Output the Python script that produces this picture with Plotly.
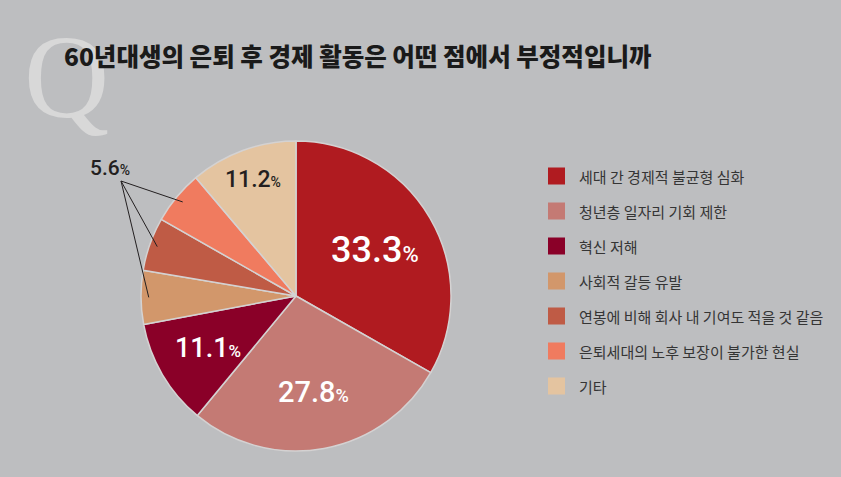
import math
import plotly.graph_objects as go

# ---- data ----
categories = [
    "세대 간 경제적 불균형 심화",
    "청년층 일자리 기회 제한",
    "혁신 저해",
    "사회적 갈등 유발",
    "연봉에 비해 회사 내 기여도 적을 것 같음",
    "은퇴세대의 노후 보장이 불가한 현실",
    "기타",
]
values = [33.3, 27.8, 11.1, 5.6, 5.6, 5.6, 11.2]
colors = ["#b01b20", "#c47a74", "#8a0028", "#d2976b", "#bf5b45", "#f07b5f", "#e4c4a0"]
title_text = "60년대생의 은퇴 후 경제 활동은 어떤 점에서 부정적입니까"

# label styling (which slices get their own label, radius fraction, size, color)
label_show = [True, True, True, False, False, False, True]
label_r = [0.59, 0.63, 0.66, 0, 0, 0, 0.80]
label_size = [36, 29, 27, 0, 0, 0, 23]
label_color = ["white", "white", "white", None, None, None, "#231f20"]

W, H = 841, 477
CX, CY, R = 296, 296, 155
BG = "#bdbec0"
NUM_FONT = "Roboto, Liberation Sans, Arial, sans-serif"

fig = go.Figure()
fig.add_trace(go.Pie(
    labels=categories, values=values, sort=False, direction="clockwise", rotation=0,
    marker=dict(colors=colors, line=dict(color="#d4d2d2", width=1.5)),
    textinfo="none", hoverinfo="label+percent", showlegend=False,
    domain=dict(x=[(CX - R) / W, (CX + R) / W], y=[1 - (CY + R) / H, 1 - (CY - R) / H]),
))

def px2paper(x, y):
    return x / W, 1 - y / H

total = sum(values)
mids = []
acc = 0
for v in values:
    mids.append((acc + v / 2) / total * 360)
    acc += v

def polar(angle, frac):
    a = math.radians(angle)
    return CX + frac * R * math.sin(a), CY - frac * R * math.cos(a)

annotations = []
shapes = []
# big Q
qx, qy = px2paper(66, 78)
annotations.append(dict(x=qx, y=qy, xref="paper", yref="paper", text="Q", showarrow=False,
                        font=dict(family="Liberation Serif, DejaVu Serif, serif", size=118, color="#d8d8d8"),
                        xanchor="center", yanchor="middle"))
# title
tx, ty = px2paper(62, 55)
annotations.append(dict(x=tx, y=ty, xref="paper", yref="paper", text=title_text, showarrow=False,
                        font=dict(family="Noto Sans CJK KR", size=24.5, color="#1a1a1a", weight=900),
                        xanchor="left", yanchor="middle"))

# slice labels
for i, v in enumerate(values):
    if not label_show[i]:
        continue
    x, y = polar(mids[i], label_r[i])
    ax, ay = px2paper(x, y)
    s = label_size[i]
    annotations.append(dict(
        x=ax, y=ay, xref="paper", yref="paper", showarrow=False,
        text=f"{v:.1f}<span style='font-size:{round(s*0.62)}px'>%</span>",
        font=dict(family=NUM_FONT, size=s, color=label_color[i], weight=500),
        xanchor="center", yanchor="middle"))

# shared 5.6% label with leader lines
small_idx = [3, 4, 5]
hub = (121, 181)
for i in small_idx:
    ex, ey = polar(mids[i], 0.95)
    x0, y0 = px2paper(*hub)
    x1, y1 = px2paper(ex, ey)
    shapes.append(dict(type="line", xref="paper", yref="paper", x0=x0, y0=y0, x1=x1, y1=y1,
                       line=dict(color="#231f20", width=1)))
lx, ly = px2paper(110, 168)
annotations.append(dict(x=lx, y=ly, xref="paper", yref="paper", showarrow=False,
                        text=f"{values[3]:.1f}<span style='font-size:14px'>%</span>",
                        font=dict(family=NUM_FONT, size=21, color="#231f20", weight=500),
                        xanchor="center", yanchor="middle"))

# custom legend
LX, LY0, DY, SQ = 548, 176, 35, 17
for i, (c, col) in enumerate(zip(categories, colors)):
    yc = LY0 + i * DY
    x0, y0 = px2paper(LX, yc - SQ / 2)
    x1, y1 = px2paper(LX + SQ, yc + SQ / 2)
    shapes.append(dict(type="rect", xref="paper", yref="paper", x0=x0, y0=y1, x1=x1, y1=y0,
                       fillcolor=col, line=dict(width=0)))
    ax, ay = px2paper(LX + 29, yc)
    annotations.append(dict(x=ax, y=ay, xref="paper", yref="paper", text=c, showarrow=False,
                            font=dict(family="Noto Sans CJK KR", size=15, color="#353535"),
                            xanchor="left", yanchor="middle"))

fig.update_layout(
    width=W, height=H, margin=dict(l=0, r=0, t=0, b=0),
    paper_bgcolor=BG, plot_bgcolor=BG,
    annotations=annotations, shapes=shapes, showlegend=False,
)
fig.write_html("out.html")
